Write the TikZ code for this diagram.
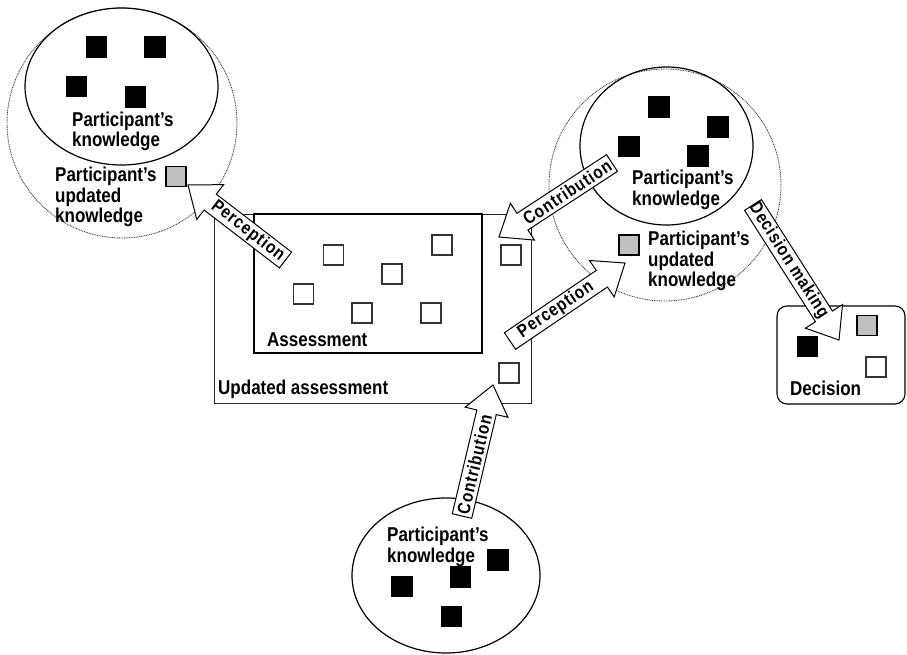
\documentclass[tikz,border=0pt]{standalone}
\usepackage{fontspec}
\newfontfamily\labelfont{Liberation Sans}[FakeStretch=0.85]
\newfontfamily\arrowfont{Liberation Sans}[FakeStretch=0.85,LetterSpace=5]
\usetikzlibrary{calc,shapes.geometric}

\tikzset{
  lbl/.style={font=\labelfont\bfseries\fontsize{20}{20.5}\selectfont, align=left, inner sep=0pt, anchor=west},
  sq/.style={draw=black, line width=1.1pt, minimum size=20pt, inner sep=0pt},
  blk/.style={sq, fill=black},
  gry/.style={sq, fill=black!25},
  wht/.style={sq, fill=white, draw=black!80},
  halo/.style={draw=black!75, line width=0.9pt, dash pattern=on 0.9pt off 0.8pt},
  core/.style={ellipse, draw=black, line width=1.2pt, inner sep=0pt},
  barrow/.style={draw=black, line width=1pt, fill=white, line join=miter},
  atext/.style={font=\arrowfont\bfseries\fontsize{18}{19}\selectfont, inner sep=0pt}
}

% block arrow from tail coordinate #2 to tip coordinate #3, labelled #4
\newcommand\blockarrow[4]{%
  \coordinate (#1-base) at ($(#3)!28pt!(#2)$);
  \draw[barrow] ($(#2)!10pt!90:(#3)$) -- ($(#1-base)!10pt!90:(#3)$)
    -- ($(#1-base)!22pt!90:(#3)$) -- (#3) -- ($(#1-base)!22pt!-90:(#3)$)
    -- ($(#1-base)!10pt!-90:(#3)$) -- ($(#2)!10pt!-90:(#3)$) -- cycle;
  \path (#2) -- (#1-base) node[midway, sloped, atext] (#1) {#4};
}

\begin{document}
\begin{tikzpicture}[x=1pt, y=-1pt]
\useasboundingbox (0,0) rectangle (907,655);

% ---- left participant ----
\node[circle, halo, minimum size=230pt, inner sep=0pt] (leftHalo) at (122,123) {};
\node[core, minimum width=193pt, minimum height=157pt] (leftCore) at (121.5,86.5) {};
\node[blk] (l1) at (96.5,47) {};
\node[blk] (l2) at (155,47) {};
\node[blk] (l3) at (76.5,86.5) {};
\node[blk] (l4) at (135.5,97) {};
\node[lbl] (leftK) at (72,131.5) {Participant’s\\knowledge};
\node[gry] (lg) at (176,176.5) {};
\node[lbl] (leftU) at (55,197) {Participant’s\\updated\\knowledge};

% ---- right participant ----
\node[circle, halo, minimum size=232pt, inner sep=0pt] (rightHalo) at (665,185) {};
\node[core, minimum width=173pt, minimum height=158pt] (rightCore) at (666.5,146) {};
\node[blk] (r1) at (659,107) {};
\node[blk] (r2) at (718,127) {};
\node[blk] (r3) at (629,146.5) {};
\node[blk] (r4) at (698,156) {};
\node[lbl] (rightK) at (632,190) {Participant’s\\knowledge};
\node[gry] (rg) at (629,245) {};
\node[lbl] (rightU) at (648,261) {Participant’s\\updated\\knowledge};

% ---- bottom participant ----
\node[core, minimum width=188pt, minimum height=155pt] (bottomCore) at (446,575.5) {};
\node[lbl] (bottomK) at (387,547) {Participant’s\\knowledge};
\node[blk] (b1) at (498,560) {};
\node[blk] (b2) at (460.5,577) {};
\node[blk] (b3) at (402,586.5) {};
\node[blk] (b4) at (451.5,616.5) {};

% ---- assessments ----
\node[draw=black!85, line width=0.9pt, minimum width=317pt, minimum height=189pt, inner sep=0pt] (updated) at (372.5,308.5) {};
\node[draw=black, line width=2.4pt, minimum width=228pt, minimum height=139pt, inner sep=0pt] (assess) at (368,283.5) {};
\node[wht] (a1) at (333.5,255) {};
\node[wht] (a2) at (442,245) {};
\node[wht] (a3) at (392,274) {};
\node[wht] (a4) at (303.5,294) {};
\node[wht] (a5) at (362,313) {};
\node[wht] (a6) at (431,313) {};
\node[wht] (u1) at (511,255) {};
\node[wht] (u2) at (509,373) {};
\node[lbl] (assessT) at (267,340) {Assessment};
\node[lbl] (updatedT) at (218,389) {Updated assessment};

% ---- decision ----
\node[draw=black, line width=1.1pt, rounded corners=10pt, minimum width=128pt, minimum height=98pt, inner sep=0pt] (decision) at (841,355) {};
\node[gry] (d1) at (867,325.5) {};
\node[blk] (d2) at (807.5,346.5) {};
\node[wht] (d3) at (876,367) {};
\node[lbl] (decisionT) at (790,388) {Decision};

% ---- arrow ends ----
\coordinate (pl-tail) at (285.5,260);
\coordinate (pl-tip) at (188,185);
\coordinate (cr-tail) at (612,163);
\coordinate (cr-tip) at (499,237);
\coordinate (pr-tail) at (510,341);
\coordinate (pr-tip) at (625,263);
\coordinate (dm-tail) at (753,205);
\coordinate (dm-tip) at (839,340);
\coordinate (cb-tail) at (462,516);
\coordinate (cb-tip) at (493,385);

\blockarrow{percLeft}{pl-tail}{pl-tip}{Perception}
\blockarrow{contribRight}{cr-tail}{cr-tip}{Contribution}
\blockarrow{percRight}{pr-tail}{pr-tip}{Perception}
\blockarrow{decMaking}{dm-tail}{dm-tip}{Decision making}
\blockarrow{contribBottom}{cb-tail}{cb-tip}{Contribution}
\end{tikzpicture}
\end{document}
